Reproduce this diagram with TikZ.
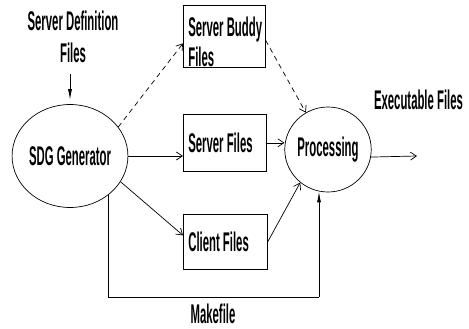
\documentclass[tikz,border=0pt]{standalone}
\usepackage{fontspec}
\newfontfamily\labfont[FakeStretch=0.42]{Liberation Sans Bold}
\usetikzlibrary{arrows.meta,shapes.geometric}

\begin{document}
\begin{tikzpicture}[x=1pt,y=-1pt, line width=0.7pt,
  lbl/.style={font=\labfont\fontsize{27}{32}\selectfont, inner sep=0pt},
  filebox/.style={draw, rectangle, inner xsep=5pt, inner ysep=0pt, anchor=north west,
    font=\labfont\fontsize{27}{30}\selectfont},
  stage/.style={draw, ellipse, inner sep=0pt, font=\labfont\fontsize{27}{31}\selectfont},
  openarrow/.style={-{Straight Barb[length=6pt,width=8pt]}},
  dashedarrow/.style={openarrow, dash pattern=on 5pt off 4pt},
  solidtip/.style={-{Latex[length=11pt,width=4pt]}, line width=0.9pt},
]
\useasboundingbox (0,0) rectangle (469,329);

% shapes
\node[stage, minimum width=109pt, minimum height=103pt] (sdg) at (70,156) {SDG Generator};
\node[stage, minimum width=73pt, minimum height=85pt] (proc) at (328,149.5) {Processing};

\node[filebox, minimum width=82pt, minimum height=62pt, align=flush left, text width=72pt] (buddy) at (183,5)
  {\rule{0pt}{31pt}\mbox{Server Buddy}\\Files};
\node[filebox, minimum width=83pt, minimum height=57pt] (srvf) at (183,114)
  {\makebox[73pt][l]{Server Files}};
\node[filebox, minimum width=84pt, minimum height=55pt] (clnt) at (183,214)
  {\makebox[74pt][l]{Client Files}};

% free labels
\node[lbl, align=center] (sdef) at (73,37) {Server Definition\\Files};
\node[lbl] (exec) at (418.5,100) {Executable Files};
\node[lbl] (make) at (213,313.5) {Makefile};

\coordinate (exend) at (417,156);
\coordinate (mkc) at (319,297);

% connectors
\draw[solidtip, shorten <=11pt, shorten >=4pt] (sdef.south -| sdg.north) -- (sdg.north);
\draw[dashedarrow] (sdg.31) -- ([yshift=-7pt]buddy.west);
\draw[dashedarrow] ([yshift=-4pt]buddy.east) -- (proc.121);
\draw[openarrow] (sdg.east) -- (sdg.east -| srvf.west);
\draw[openarrow] (srvf.east) -- (proc.west |- srvf.east);
\draw[openarrow] (sdg.-27.5) -- ([yshift=6.5pt]clnt.west);
\draw[openarrow] (clnt.east) -- (proc.230);
\draw[openarrow] (proc.-10) -- (exend);
\draw (sdg.-46) |- (mkc);
\draw[solidtip] (mkc) -- (proc.258 -| mkc);
\end{tikzpicture}
\end{document}
